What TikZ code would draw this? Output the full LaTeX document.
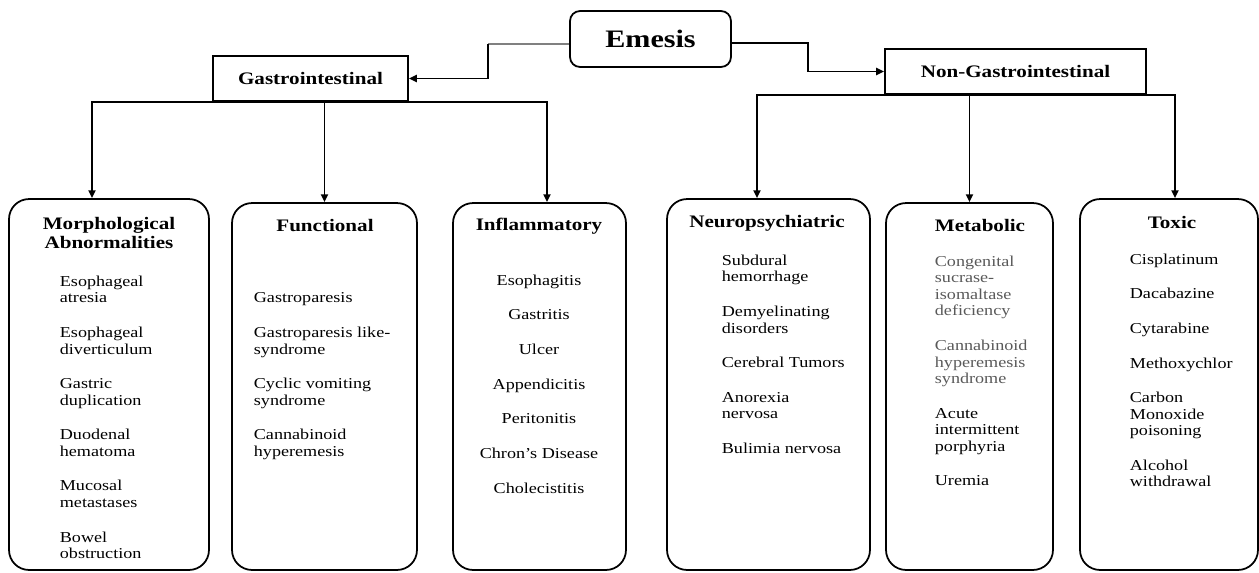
\documentclass[tikz,border=0pt]{standalone}
\usepackage{fontspec}
\setmainfont{Liberation Serif}[FakeStretch=1.2]
\usetikzlibrary{arrows.meta}
\definecolor{fadedtext}{gray}{0.35}

\begin{document}
\begin{tikzpicture}[x=0.02cm, y=-0.02cm, line width=1pt,
  topbox/.style={draw, minimum height=0.9cm, font=\fontsize{10}{12}\selectfont\bfseries},
  groupbox/.style={draw, rounded corners=0.4cm},
  grouptitle/.style={align=center, inner sep=0pt, font=\fontsize{10}{11.3}\selectfont\bfseries},
  itemlist/.style={align=left, inner sep=0pt, font=\fontsize{8.6}{9.4}\selectfont},
  link/.style={-{Triangle[length=4.5pt, width=4pt]}}]
  \useasboundingbox (0,0) rectangle (1259,572);

  % top level
  \node[draw, rounded corners=0.2cm, minimum width=3.22cm, minimum height=1.12cm,
        font=\fontsize{14.3}{16}\selectfont\bfseries] (em) at (650.5,39) {Emesis};
  \node[topbox, minimum width=3.9cm] (gi) at (310.5,78.5) {Gastrointestinal};
  \node[topbox, minimum width=5.22cm] (ng) at (1015.5,71.5) {Non-Gastrointestinal};

  % group boxes
  \node[groupbox, minimum width=4cm, minimum height=7.42cm] (morph) at (109,384.5) {};
  \node[groupbox, minimum width=3.7cm, minimum height=7.34cm] (func) at (324.5,386.5) {};
  \node[groupbox, minimum width=3.46cm, minimum height=7.34cm] (infl) at (539.5,386.5) {};
  \node[groupbox, minimum width=4.06cm, minimum height=7.42cm] (neuro) at (768.5,384.5) {};
  \node[groupbox, minimum width=3.34cm, minimum height=7.34cm] (meta) at (969.5,386.5) {};
  \node[groupbox, minimum width=3.56cm, minimum height=7.42cm] (toxic) at (1169,384.5) {};

  \node[grouptitle] (morphtitle) at (109,233) {Morphological\\Abnormalities};
  \node[grouptitle] (functitle) at (325,226) {Functional};
  \node[grouptitle] (infltitle) at (539,226) {Inflammatory};
  \node[grouptitle] (neurotitle) at (767,223) {Neuropsychiatric};
  \node[grouptitle] (metatitle) at (980,225) {Metabolic};
  \node[grouptitle] (toxictitle) at (1172,222) {Toxic};

  \node[itemlist, anchor=north west] (morphlist) at (59,275) {Esophageal\\atresia\\[10.3pt]
    Esophageal\\diverticulum\\[10.3pt]Gastric\\duplication\\[10.3pt]Duodenal\\hematoma\\[10.3pt]
    Mucosal\\metastases\\[10.3pt]Bowel\\obstruction};
  \node[itemlist, anchor=north west] (funclist) at (253,292) {Gastroparesis\\[10.3pt]
    Gastroparesis like-\\syndrome\\[10.3pt]Cyclic vomiting\\syndrome\\[10.3pt]
    Cannabinoid\\hyperemesis};
  \node[itemlist, align=center, anchor=north] (infllist) at (539,274) {Esophagitis\\[10.3pt]
    Gastritis\\[10.3pt]Ulcer\\[10.3pt]Appendicitis\\[10.3pt]Peritonitis\\[10.3pt]
    Chron’s Disease\\[10.3pt]Cholecistitis};
  \node[itemlist, anchor=north west] (neurolist) at (721,254) {Subdural\\hemorrhage\\[10.3pt]
    Demyelinating\\disorders\\[10.3pt]Cerebral Tumors\\[10.3pt]Anorexia\\nervosa\\[10.3pt]
    Bulimia nervosa};
  \node[itemlist, anchor=north west] (metalist) at (934,255) {\textcolor{fadedtext}{Congenital}\\
    \textcolor{fadedtext}{sucrase-}\\\textcolor{fadedtext}{isomaltase}\\
    \textcolor{fadedtext}{deficiency}\\[10.3pt]\textcolor{fadedtext}{Cannabinoid}\\
    \textcolor{fadedtext}{hyperemesis}\\\textcolor{fadedtext}{syndrome}\\[10.3pt]
    Acute\\intermittent\\porphyria\\[10.3pt]Uremia};
  \node[itemlist, anchor=north west] (toxiclist) at (1129,253) {Cisplatinum\\[10.3pt]
    Dacabazine\\[10.3pt]Cytarabine\\[10.3pt]Methoxychlor\\[10.3pt]
    Carbon\\Monoxide\\poisoning\\[10.3pt]Alcohol\\withdrawal};

  % connectors
  \draw[line width=0.6pt, black!50] ([yshift=-0.1cm]em.west) -- ++(-81,0) coordinate (gibend);
  \draw[link] (gibend) |- (gi.east);
  \draw[link] ([yshift=-0.08cm]em.east) -- ++(76,0) |- (ng.west);

  \draw[link] (gi.south) -| ([xshift=-0.34cm]morph.north);
  \draw[link] (gi.south -| func.north) -- (func.north);
  \draw[link] (gi.south) -| ([xshift=0.15cm]infl.north);

  \draw[link] (ng.south) -| ([xshift=-0.23cm]neuro.north);
  \draw[link] (ng.south -| meta.north) -- (meta.north);
  \draw[link] (ng.south) -| ([xshift=0.12cm]toxic.north);
\end{tikzpicture}
\end{document}
